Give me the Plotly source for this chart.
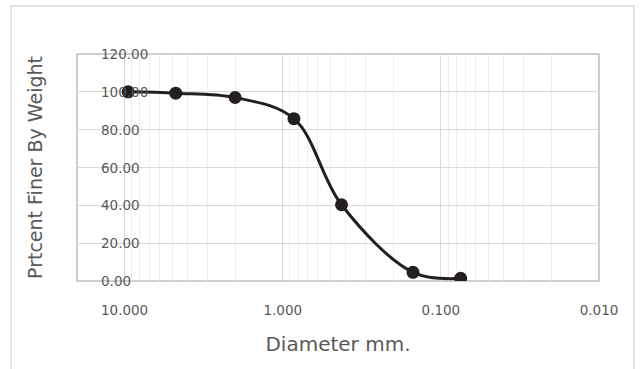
import plotly.graph_objects as go

# Data
sieve_mm = [9.5, 4.75, 2.0, 0.85, 0.425, 0.15, 0.075]
percent_finer = [100.0, 99.3, 97.0, 85.8, 40.3, 4.6, 1.4]

x_tickvals = [10, 1, 0.1, 0.01]
x_ticktext = ["10.000", "1.000", "0.100", "0.010"]
x_minor_vals = [9, 8, 7, 6, 5, 4, 3, 2,
                0.9, 0.8, 0.7, 0.6, 0.5, 0.4, 0.3, 0.2,
                0.09, 0.08, 0.07, 0.06, 0.05, 0.04, 0.03, 0.02]
y_tickvals = [0, 20, 40, 60, 80, 100, 120]
y_ticktext = ["%.2f" % v for v in y_tickvals]

x_title = "Diameter mm."
y_title = "Prtcent Finer By Weight"

FONT = "DejaVu Sans"
TXT = "#595959"
DARK = "#231f20"

W, H = 641, 369
L, R, T, B = 77, 42, 54, 88
pw = W - L - R
ph = H - T - B

fig = go.Figure()
fig.add_trace(go.Scatter(
    x=sieve_mm, y=percent_finer,
    mode="lines+markers",
    line=dict(color=DARK, width=3, shape="spline", smoothing=1),
    marker=dict(color=DARK, size=13),
    showlegend=False,
    hoverinfo="x+y",
))

def px2paper_x(px):
    return (px - L) / pw

def px2paper_y(py):
    return (H - B - py) / ph

# y tick labels drawn left-aligned inside the plot (as in the reference)
annotations = [
    dict(x=px2paper_x(99), xref="paper", y=v, yref="y", text=t,
         showarrow=False, xanchor="left", yanchor="middle",
         font=dict(family=FONT, size=13.5, color=TXT))
    for v, t in zip(y_tickvals, y_ticktext)
]

fig.update_layout(
    width=W, height=H,
    margin=dict(l=L, r=R, t=T, b=B),
    paper_bgcolor="white",
    plot_bgcolor="white",
    font=dict(family=FONT, color=TXT, size=13),
    xaxis=dict(
        type="log",
        range=[1.30103, -2],
        tickmode="array",
        tickvals=x_tickvals,
        ticktext=x_ticktext,
        showgrid=True,
        gridcolor="#d9d9d9",
        gridwidth=1,
        zeroline=False,
        showline=False,
        ticks="",
        ticklabelstandoff=19,
        automargin=False,
        tickfont=dict(family=FONT, size=13.5, color=TXT),
        minor=dict(tickmode="array", tickvals=x_minor_vals, showgrid=True,
                   gridcolor="#efefef", gridwidth=1, ticks=""),
        title=dict(text=x_title, font=dict(family=FONT, size=20, color=TXT), standoff=20),
    ),
    yaxis=dict(
        range=[0, 120],
        tickmode="array",
        tickvals=y_tickvals,
        showgrid=True,
        gridcolor="#d9d9d9",
        gridwidth=1,
        zeroline=False,
        showline=False,
        ticks="",
        showticklabels=False,
        automargin=False,
        title=dict(text=y_title, font=dict(family=FONT, size=19, color=TXT), standoff=28),
    ),
    annotations=annotations,
    shapes=[
        dict(type="rect", xref="paper", yref="paper", x0=0, x1=1, y0=0, y1=1,
             line=dict(color="#bfbfbf", width=1.5), fillcolor="rgba(0,0,0,0)", layer="between"),
        dict(type="rect", xref="paper", yref="paper",
             x0=px2paper_x(11), x1=px2paper_x(634), y0=px2paper_y(400), y1=px2paper_y(6),
             line=dict(color="#d9d9d9", width=1.5), fillcolor="rgba(0,0,0,0)", layer="below"),
    ],
)

fig.write_html("out.html",
               config={"displayModeBar": False},
               post_script="document.body.style.margin='0';document.body.style.overflow='hidden';")
